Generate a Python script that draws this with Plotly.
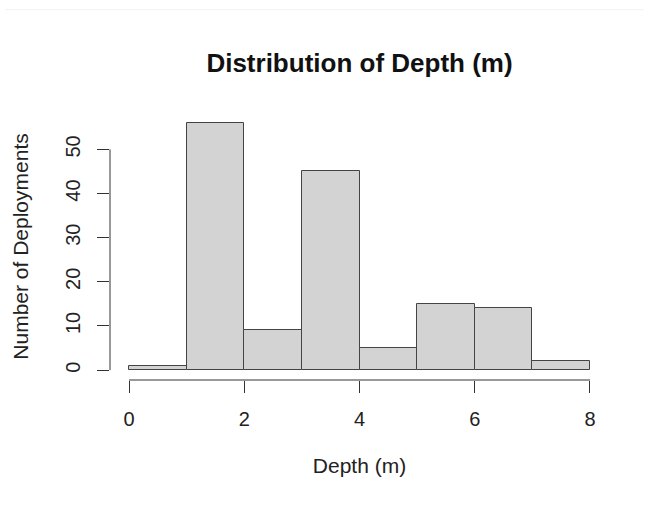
import plotly.graph_objects as go

bin_edges = [0, 1, 2, 3, 4, 5, 6, 7, 8]
counts = [1, 56, 9, 45, 5, 15, 14, 2]
x_ticks = [0, 2, 4, 6, 8]
y_ticks = [0, 10, 20, 30, 40, 50]

centers = [(bin_edges[i] + bin_edges[i + 1]) / 2 for i in range(len(counts))]
widths = [bin_edges[i + 1] - bin_edges[i] for i in range(len(counts))]

W, H = 653, 506
L, R, T, B = 110, 44, 113, 126

fig = go.Figure()
fig.add_trace(go.Bar(
    x=centers, y=counts, width=widths,
    marker=dict(color="#d3d3d3", line=dict(color="#444444", width=1)),
    hoverinfo="x+y",
))

font = "Liberation Sans, Arial, sans-serif"
fig.update_layout(
    width=W, height=H,
    margin=dict(l=L, r=R, t=T, b=B),
    paper_bgcolor="white", plot_bgcolor="white",
    showlegend=False,
    bargap=0,
    title=dict(text="<b>Distribution of Depth (m)</b>", x=0.5, xref="paper",
               xanchor="center", y=1 - 63 / H, yanchor="middle",
               font=dict(family=font, size=26, color="#111")),
    xaxis=dict(range=[-0.33, 8.33], tickvals=x_ticks, ticks="outside", ticklen=12,
               tickcolor="#333", showgrid=False, zeroline=False, showline=False,
               ticklabelstandoff=9,
               tickfont=dict(family=font, size=20, color="#222"),
               title=dict(text="Depth (m)", font=dict(family=font, size=21, color="#222"),
                          standoff=29)),
    yaxis=dict(range=[-2.24, 58.24], tickvals=y_ticks, ticks="outside", ticklen=12,
               tickcolor="#333", showgrid=False, zeroline=False, showline=False,
               tickangle=-90, ticklabelstandoff=9,
               tickfont=dict(family=font, size=20, color="#222"),
               title=dict(text="Number of Deployments",
                          font=dict(family=font, size=21, color="#222"), standoff=27)),
)

# R-style detached axis lines
fig.add_shape(type="line", xref="x", yref="paper", x0=x_ticks[0], x1=x_ticks[-1],
              y0=0, y1=0, line=dict(color="#333", width=1))
fig.add_shape(type="line", xref="paper", yref="y", x0=0, x1=0,
              y0=y_ticks[0], y1=y_ticks[-1], line=dict(color="#333", width=1))
# faint top border line of the screenshot
fig.add_shape(type="line", xref="paper", yref="paper", x0=-0.21, x1=1.07,
              y0=1.387, y1=1.387, line=dict(color="#f2f2f2", width=1))

fig.write_html("out.html")
